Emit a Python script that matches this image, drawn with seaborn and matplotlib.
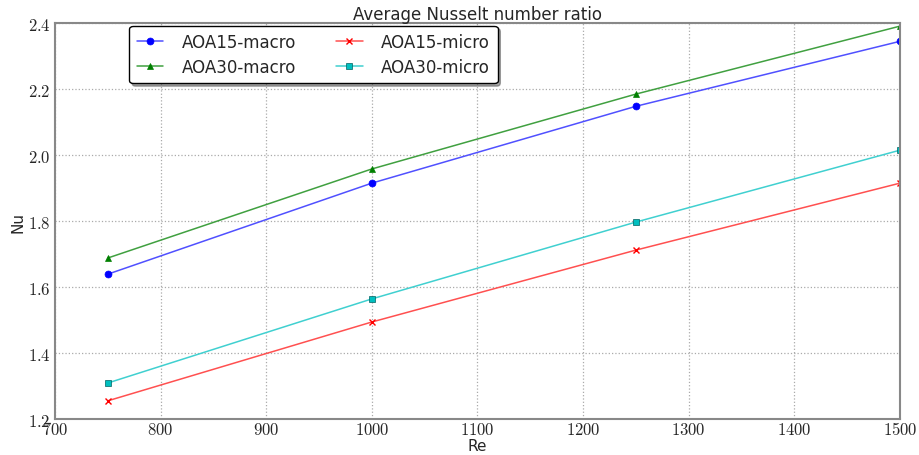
import matplotlib
matplotlib.use("Agg")
import matplotlib.pyplot as plt
import seaborn as sns
import pandas as pd
from matplotlib.ticker import FuncFormatter, MultipleLocator
from matplotlib.lines import Line2D

re_vals = [750, 1000, 1250, 1500]
aoa15_macro = [1.639, 1.915, 2.148, 2.345]
aoa30_macro = [1.688, 1.958, 2.185, 2.391]
aoa15_micro = [1.255, 1.494, 1.712, 1.915]
aoa30_micro = [1.309, 1.564, 1.797, 2.015]

labels = ["AOA15-macro", "AOA30-macro", "AOA15-micro", "AOA30-micro"]
series = [aoa15_macro, aoa30_macro, aoa15_micro, aoa30_micro]
colors = ["#0000ff", "#007f00", "#ff0000", "#00bfbf"]
line_colors = ["#5050ff", "#40a040", "#ff5050", "#40d0d0"]
markers = ["o", "^", "x", "s"]

sns.set_style("white")
plt.rcParams["font.family"] = ["DejaVu Sans"]
plt.rcParams["mathtext.fontset"] = "cm"

fig = plt.figure(figsize=(9.19, 4.56), dpi=100)
ax = fig.add_axes([0.0598, 0.079, 0.9195, 0.868])

handles = []
for lab, vals, c, lc, m in zip(labels, series, colors, line_colors, markers):
    df = pd.DataFrame({"Re": re_vals, "Nu": vals})
    kw = dict(color=lc, linewidth=1.1, marker=m, markersize=5, markerfacecolor=c,
              markeredgecolor=(c if m != "s" else "#006060"),
              markeredgewidth=(1.0 if m == "x" else 0.5))
    sns.lineplot(data=df, x="Re", y="Nu", ax=ax, legend=False, **kw)
    handles.append(Line2D([0], [0], label=lab, **kw))

ax.set_xlim(700, 1500)
ax.set_ylim(1.2, 2.4)
ax.xaxis.set_major_locator(MultipleLocator(100))
ax.yaxis.set_major_locator(MultipleLocator(0.2))
ax.xaxis.set_major_formatter(FuncFormatter(lambda v, p: r"$\mathbf{%d}$" % v))
ax.yaxis.set_major_formatter(FuncFormatter(lambda v, p: r"$\mathbf{%.1f}$" % v))
ax.tick_params(axis="both", labelsize=12, length=4, direction="in", color="#888888")
ax.tick_params(axis="x", pad=1)
ax.tick_params(axis="y", pad=3)
ax.grid(True, linestyle=":", color="#aaaaaa", linewidth=0.9)
for s in ax.spines.values():
    s.set_color("#888888")
    s.set_linewidth(1.5)

ax.set_xlabel("Re", fontsize=11, labelpad=0)
ax.set_ylabel("Nu", fontsize=11, labelpad=2)
ax.set_title("Average Nusselt number ratio", fontsize=12, pad=3)

leg = ax.legend(handles=handles, ncol=2, loc="upper left",
                bbox_to_anchor=(0.085, 1.0), borderaxespad=0.15, fontsize=12,
                frameon=True, fancybox=True, shadow=True, columnspacing=2.4,
                handlelength=1.6, handletextpad=1.1, borderpad=0.45,
                labelspacing=0.4, framealpha=1)
leg.get_frame().set_edgecolor("black")

fig.savefig("out.png", dpi=100)
